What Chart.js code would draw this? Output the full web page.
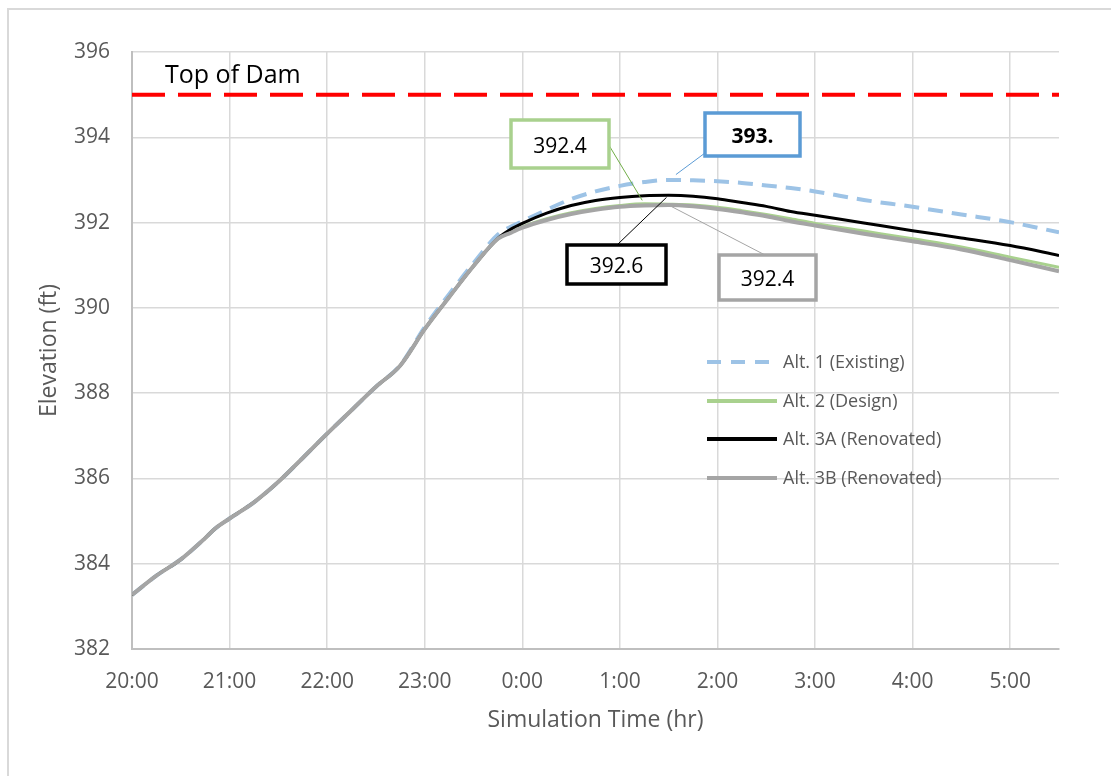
<!DOCTYPE html>
<html>
<head>
<meta charset="utf-8">
<script src="https://cdn.jsdelivr.net/npm/chart.js@4.4.0/dist/chart.umd.min.js"></script>
<style>
  body { margin: 0; background: #fff; }
  #frame { position: absolute; left: 7px; top: 8px; width: 1130px; height: 800px; border: 2px solid #d9d9d9; box-sizing: border-box; }
  #wrap { position: absolute; left: 0; top: 0; width: 1111px; height: 776px; }
</style>
</head>
<body>
<div id="frame"></div>
<div id="wrap"><canvas id="myChart"></canvas></div>
<script>
// hours after 20:00
const hours = [0, 0.25, 0.5, 0.75, 0.85, 1, 1.25, 1.5, 1.75, 2, 2.25, 2.5, 2.75, 3, 3.25, 3.5, 3.75, 3.88,
               4, 4.25, 4.5, 4.75, 5, 5.25, 5.5, 5.75, 6, 6.25, 6.5, 6.75, 7, 7.5, 8, 8.5, 9, 9.5];
const timeLabels = ['20:00', '21:00', '22:00', '23:00', '0:00', '1:00', '2:00', '3:00', '4:00', '5:00'];

const alt1 = [383.27, 383.72, 384.10, 384.60, 384.82, 385.06, 385.44, 385.92, 386.48, 387.05, 387.60, 388.15, 388.66, 389.55, 390.32, 391.05, 391.72, 391.90,
              392.03, 392.30, 392.55, 392.73, 392.86, 392.95, 393.00, 392.99, 392.97, 392.93, 392.87, 392.81, 392.73, 392.53, 392.37, 392.19, 392.01, 391.77];
const alt2 = [383.27, 383.72, 384.10, 384.60, 384.82, 385.06, 385.44, 385.92, 386.48, 387.05, 387.60, 388.15, 388.65, 389.50, 390.25, 390.98, 391.62, 391.77,
              391.90, 392.09, 392.23, 392.33, 392.40, 392.44, 392.43, 392.41, 392.36, 392.28, 392.19, 392.09, 391.98, 391.80, 391.62, 391.43, 391.19, 390.95];
const alt3a = [383.27, 383.72, 384.10, 384.60, 384.82, 385.06, 385.44, 385.92, 386.48, 387.05, 387.60, 388.15, 388.65, 389.50, 390.25, 390.98, 391.63, 391.84,
               391.98, 392.22, 392.40, 392.52, 392.59, 392.63, 392.64, 392.62, 392.56, 392.47, 392.38, 392.26, 392.17, 391.99, 391.81, 391.64, 391.46, 391.23];
const alt3b = [383.27, 383.72, 384.10, 384.60, 384.82, 385.06, 385.44, 385.92, 386.48, 387.05, 387.60, 388.15, 388.65, 389.50, 390.25, 390.98, 391.62, 391.76,
               391.88, 392.06, 392.20, 392.30, 392.37, 392.40, 392.41, 392.38, 392.32, 392.24, 392.15, 392.03, 391.93, 391.74, 391.56, 391.37, 391.12, 390.86];
const damHours = [0, 9.5];
const damLevel = [395, 395];

const seriesNames = ['Alt. 1 (Existing)', 'Alt. 2 (Design)', 'Alt. 3A (Renovated)', 'Alt. 3B (Renovated)'];
const seriesColors = ['#9dc3e6', '#a9d18e', '#000000', '#a5a5a5'];
const allSeries = [alt1, alt2, alt3a, alt3b];

const FONT = '"Open Sans", "Noto Sans", sans-serif';

function pts(xs, ys) {
    return xs.map((h, i) => ({x: h, y: ys[i]}));
}

// peak labels with callout boxes (box = left, top, width, height)
const callouts = [
    {s: 1, text: '392.4', box: [511, 120, 98, 48], color: '#a9d18e', lead: '#70ad47', from: [607, 142], bold: false, cut: 4},
    {s: 0, text: '393.', box: [705, 113, 95, 43], color: '#5b9bd5', lead: '#5b9bd5', from: [705, 153], bold: true, cut: 9},
    {s: 2, text: '392.6', box: [567, 245, 99, 39], color: '#000000', lead: '#000000', from: [617, 245], bold: false, cut: 3},
    {s: 3, text: '392.4', box: [719, 255, 97, 45], color: '#a5a5a5', lead: '#a5a5a5', from: [765, 255], bold: false, cut: 3}
];

const overlay = {
    id: 'overlay',
    afterDatasetsDraw(chart) {
        const ctx = chart.ctx;
        const xs = chart.scales.x, ys = chart.scales.y;
        ctx.save();

        ctx.fillStyle = '#000';
        ctx.font = '25px ' + FONT;
        ctx.textAlign = 'left';
        ctx.textBaseline = 'alphabetic';
        ctx.fillText('Top of Dam', 165, 83);

        callouts.forEach(c => {
            const vals = allSeries[c.s];
            const k = vals.indexOf(Math.max(...vals));
            const px = xs.getPixelForValue(hours[k]);
            const py = ys.getPixelForValue(vals[k]);
            const dx = px - c.from[0], dy = py - c.from[1];
            const len = Math.sqrt(dx * dx + dy * dy);
            const f = (len - c.cut) / len;
            ctx.strokeStyle = c.lead;
            ctx.lineWidth = 1;
            ctx.setLineDash([]);
            ctx.beginPath();
            ctx.moveTo(c.from[0], c.from[1]);
            ctx.lineTo(c.from[0] + dx * f, c.from[1] + dy * f);
            ctx.stroke();

            const [bx, by, bw, bh] = c.box;
            ctx.fillStyle = '#fff';
            ctx.fillRect(bx, by, bw, bh);
            ctx.strokeStyle = c.color;
            ctx.lineWidth = 3.5;
            ctx.strokeRect(bx, by, bw, bh);
            ctx.fillStyle = '#000';
            ctx.font = (c.bold ? 'bold ' : '') + '21px ' + FONT;
            ctx.textAlign = 'center';
            ctx.textBaseline = 'middle';
            ctx.fillText(c.text, bx + bw / 2, by + bh / 2 + 3);
        });

        // legend
        const rows = [362, 401, 439, 478];
        rows.forEach((ry, i) => {
            ctx.strokeStyle = seriesColors[i];
            ctx.lineWidth = 4;
            ctx.setLineDash(i === 0 ? [14, 10] : []);
            ctx.beginPath();
            ctx.moveTo(707, ry);
            ctx.lineTo(777, ry);
            ctx.stroke();
            ctx.setLineDash([]);
            ctx.fillStyle = '#595959';
            ctx.font = '18px ' + FONT;
            ctx.textAlign = 'left';
            ctx.textBaseline = 'middle';
            ctx.fillText(seriesNames[i], 783, ry + 1);
        });
        ctx.restore();
    }
};

new Chart('myChart', {
    type: 'line',
    data: {
        datasets: [
            {label: seriesNames[0], data: pts(hours, alt1), borderColor: seriesColors[0], borderWidth: 4, borderDash: [15, 9], order: 5},
            {label: seriesNames[1], data: pts(hours, alt2), borderColor: seriesColors[1], borderWidth: 3, order: 4},
            {label: seriesNames[2], data: pts(hours, alt3a), borderColor: seriesColors[2], borderWidth: 3, order: 3},
            {label: seriesNames[3], data: pts(hours, alt3b), borderColor: seriesColors[3], borderWidth: 4, order: 2},
            {label: 'Top of Dam', data: pts(damHours, damLevel), borderColor: '#ff0000', borderWidth: 4, borderDash: [33, 13], order: 1}
        ]
    },
    options: {
        responsive: true,
        maintainAspectRatio: false,
        animation: false,
        layout: {padding: {left: 0, top: 52, right: 52, bottom: 0}},
        elements: {
            point: {radius: 0},
            line: {cubicInterpolationMode: 'monotone', borderCapStyle: 'butt'}
        },
        plugins: {
            legend: {display: false},
            tooltip: {enabled: false}
        },
        scales: {
            x: {
                type: 'linear',
                min: 0,
                max: 9.5,
                afterFit: s => { s.height = 127; },
                ticks: {
                    stepSize: 1,
                    includeBounds: false,
                    autoSkip: false,
                    maxRotation: 0,
                    padding: 20,
                    color: '#595959',
                    font: {family: FONT, size: 21},
                    callback: v => timeLabels[v] ?? ''
                },
                grid: {color: '#d9d9d9', lineWidth: 1.5, drawTicks: false},
                border: {color: '#bfbfbf', width: 2},
                title: {display: true, text: 'Simulation Time (hr)', color: '#595959',
                        font: {family: FONT, size: 23}, padding: {top: 0, bottom: 42}}
            },
            y: {
                min: 382,
                max: 396,
                afterFit: s => { s.width = 132; },
                ticks: {
                    stepSize: 2,
                    padding: 22,
                    color: '#595959',
                    font: {family: FONT, size: 21}
                },
                grid: {color: '#d9d9d9', lineWidth: 1.5, drawTicks: false},
                border: {color: '#bfbfbf', width: 2},
                title: {display: true, text: 'Elevation (ft)', color: '#595959',
                        font: {family: FONT, size: 23}, padding: {top: 36, bottom: 0}}
            }
        }
    },
    plugins: [overlay]
});
</script>
</body>
</html>
